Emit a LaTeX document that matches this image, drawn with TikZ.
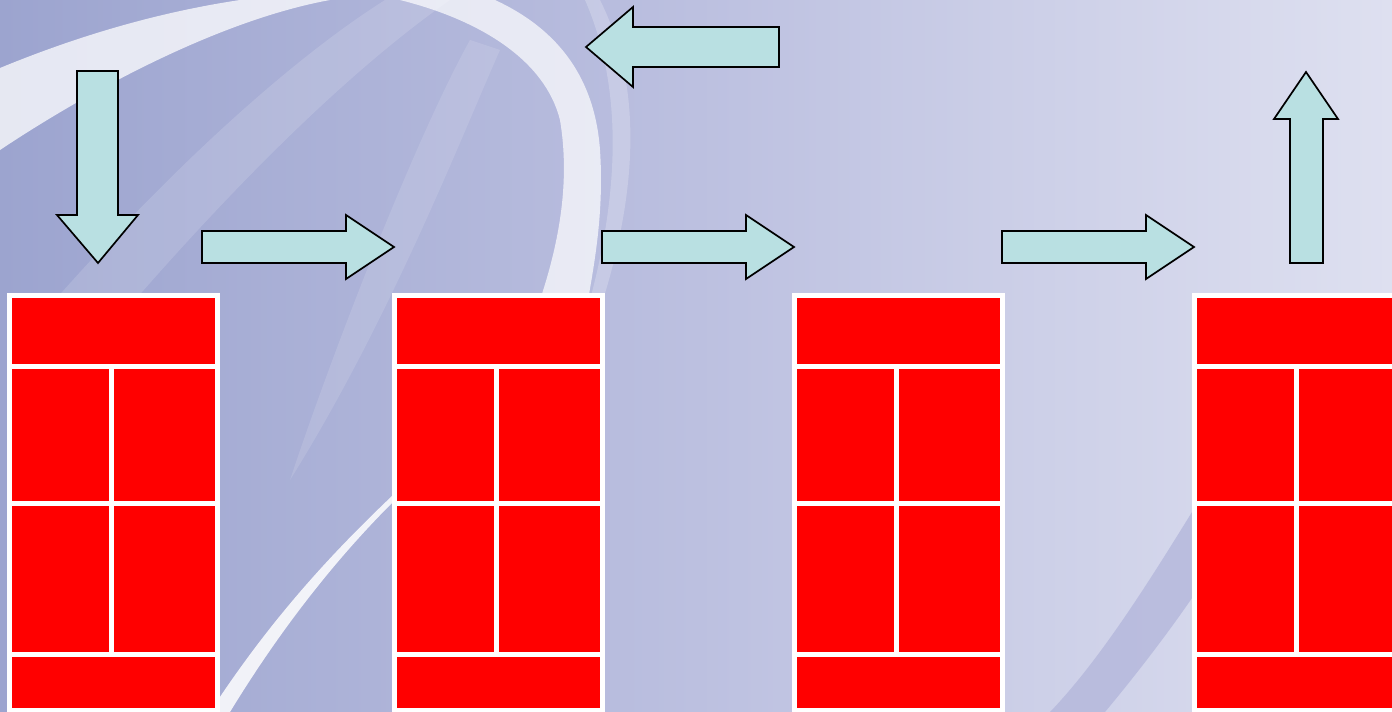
\documentclass[tikz,border=0pt]{standalone}
\definecolor{bgL}{RGB}{156,164,207}
\definecolor{bgM}{RGB}{188,192,224}
\definecolor{bgR}{RGB}{222,224,240}
\definecolor{arrowfill}{RGB}{185,224,226}
\definecolor{courtred}{RGB}{255,0,0}
\definecolor{darkarc}{RGB}{178,181,218}
\tikzset{
  blockarrow/.style={fill=arrowfill, draw=black, line width=1.7pt, line join=miter},
  court/.pic={
    \fill[white] (0,0) rectangle (213,421);
    \fill[courtred] (5,5) rectangle (208,71);
    \fill[courtred] (5,76) rectangle (102,208);
    \fill[courtred] (107,76) rectangle (208,208);
    \fill[courtred] (5,213) rectangle (102,359);
    \fill[courtred] (107,213) rectangle (208,359);
    \fill[courtred] (5,364) rectangle (208,415);
  },
  rarrow/.pic={
    \draw[blockarrow] (0,0) -- (144,0) -- (144,-16) -- (192,16) -- (144,48) -- (144,32) -- (0,32) -- cycle;
  }
}
\begin{document}
\begin{tikzpicture}[x=1pt,y=-1pt]
\useasboundingbox (0,0) rectangle (1392,712);
\clip (0,0) rectangle (1392,712);
% background
\shade[left color=bgL, right color=bgR, middle color=bgM] (0,0) rectangle (1392,712);
% faint light bands
\fill[white, opacity=0.14] (55,300) .. controls (170,170) and (290,60) .. (385,0) -- (450,0) .. controls (350,70) and (240,180) .. (135,300) -- cycle;
\fill[white, opacity=0.12] (290,480) .. controls (340,330) and (420,130) .. (470,40) -- (500,50) .. controls (460,140) and (390,320) .. (290,480) -- cycle;
% big white swoosh, left piece
\fill[white, opacity=0.75] (0,68) .. controls (80,35) and (160,12) .. (240,0) -- (330,0) .. controls (220,20) and (90,90) .. (0,150) -- cycle;
% big white swoosh, right piece
\fill[white, opacity=0.7] (400,0) -- (495,0) .. controls (560,30) and (595,80) .. (600,150) .. controls (604,210) and (595,260) .. (588,300)
  -- (540,300) .. controls (560,240) and (570,180) .. (560,120) .. controls (545,60) and (480,20) .. (400,0) -- cycle;
% faint light arc near the top arrow
\fill[white, opacity=0.22] (600,0) .. controls (640,80) and (640,180) .. (603,300) -- (590,300) .. controls (622,180) and (620,80) .. (585,0) -- cycle;
% thin white streak
\fill[white, opacity=0.85] (210,712) .. controls (270,620) and (330,555) .. (392,496) -- (392,503) .. controls (335,560) and (280,630) .. (230,712) -- cycle;
% darker arc bottom right
\fill[darkarc, opacity=0.75] (1192,512) .. controls (1150,580) and (1100,660) .. (1050,712) -- (1105,712) .. controls (1140,670) and (1170,630) .. (1192,598) -- cycle;
% courts
\pic at (7,293) {court};
\pic at (392,293) {court};
\pic at (792,293) {court};
\pic at (1192,293) {court};
% arrows
\draw[blockarrow] (77,71) -- (118,71) -- (118,215) -- (138,215) -- (98,263) -- (57,215) -- (77,215) -- cycle;
\pic at (202,231) {rarrow};
\pic at (602,231) {rarrow};
\pic at (1002,231) {rarrow};
\draw[blockarrow] (779,27) -- (633,27) -- (633,7) -- (586,47) -- (633,87) -- (633,67) -- (779,67) -- cycle;
\draw[blockarrow] (1290,263) -- (1290,119) -- (1274,119) -- (1306,72) -- (1338,119) -- (1323,119) -- (1323,263) -- cycle;
\end{tikzpicture}
\end{document}
